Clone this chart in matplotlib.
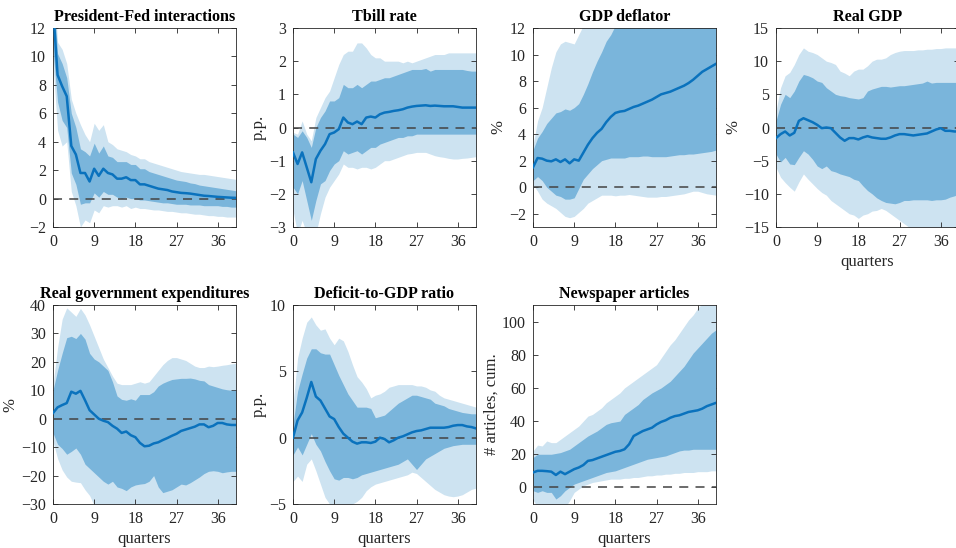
import matplotlib
matplotlib.use("Agg")
import matplotlib.pyplot as plt
import numpy as np

quarters = np.arange(41)

titles = ["President-Fed interactions", "Tbill rate", "GDP deflator", "Real GDP",
          "Real government expenditures", "Deficit-to-GDP ratio", "Newspaper articles"]
ylabels = ["", "p.p.", "%", "%", "%", "p.p.", "# articles, cum."]
ylims = [(-2, 12), (-3, 3), (-3, 12), (-15, 15), (-30, 40), (-5, 10), (-10, 110)]
yticks = [[-2, 0, 2, 4, 6, 8, 10, 12], [-3, -2, -1, 0, 1, 2, 3], [-2, 0, 2, 4, 6, 8, 10, 12],
          [-15, -10, -5, 0, 5, 10, 15], [-30, -20, -10, 0, 10, 20, 30, 40], [-5, 0, 5, 10],
          [0, 20, 40, 60, 80, 100]]
xticks = [0, 9, 18, 27, 36]
show_xlabel = [False, False, False, True, True, True, True]

# President-Fed interactions
pf_med = [13.5, 8.7, 7.9, 7.2, 3.7, 3.1, 1.8, 1.8, 1.2, 2.1, 1.6, 2.1, 1.8, 1.7, 1.4, 1.4, 1.5, 1.3, 1.3, 1.0,
          1.0, 0.9, 0.8, 0.7, 0.65, 0.6, 0.5, 0.45, 0.4, 0.38, 0.35, 0.3, 0.25, 0.2, 0.18, 0.15, 0.12, 0.1, 0.08, 0.06, 0.05]
pf_in_hi = [15.0, 10.2, 9.5, 8.5, 6.0, 5.0, 3.5, 3.3, 3.0, 3.9, 3.2, 3.7, 3.0, 2.9, 2.6, 2.6, 2.6, 2.4, 2.4, 2.1,
            2.1, 1.9, 1.8, 1.7, 1.6, 1.5, 1.4, 1.3, 1.25, 1.2, 1.1, 1.05, 0.95, 0.9, 0.85, 0.8, 0.75, 0.7, 0.65, 0.6, 0.55]
pf_in_lo = [10.5, 6.8, 5.5, 5.0, 1.8, 1.0, -0.4, -0.3, -0.3, 0.4, 0.1, 0.5, 0.3, 0.3, 0.1, 0.0, 0.1, 0.0, 0.0, -0.1,
            -0.1, -0.15, -0.2, -0.25, -0.3, -0.3, -0.35, -0.4, -0.4, -0.4, -0.45, -0.45, -0.45, -0.5, -0.5, -0.5, -0.5, -0.55, -0.55, -0.6, -0.6]
pf_out_hi = [16.0, 11.0, 10.5, 9.5, 7.0, 6.0, 5.2, 4.5, 4.0, 5.3, 4.8, 5.2, 4.0, 3.8, 3.5, 3.4, 3.3, 3.1, 3.0, 2.8,
             2.8, 2.6, 2.5, 2.4, 2.3, 2.2, 2.1, 2.0, 1.9, 1.85, 1.8, 1.75, 1.7, 1.7, 1.65, 1.6, 1.55, 1.5, 1.45, 1.4, 1.35]
pf_out_lo = [9.5, 4.8, 3.7, 4.0, 0.5, -0.5, -2.0, -1.5, -1.7, -0.8, -1.0, -0.5, -0.6, -0.5, -0.5, -0.6, -0.5, -0.7, -0.6, -0.7,
             -0.7, -0.75, -0.8, -0.8, -0.85, -0.9, -0.9, -0.95, -1.0, -1.0, -1.05, -1.1, -1.1, -1.15, -1.2, -1.2, -1.25, -1.25, -1.3, -1.3, -1.3]

# Tbill rate
tb_med = [-0.75, -1.1, -0.75, -1.2, -1.65, -0.95, -0.7, -0.5, -0.2, -0.15, -0.05, 0.3, 0.15, 0.1, 0.18, 0.1, 0.3, 0.33, 0.3, 0.4,
          0.45, 0.47, 0.5, 0.52, 0.55, 0.6, 0.63, 0.65, 0.66, 0.67, 0.65, 0.66, 0.65, 0.64, 0.64, 0.64, 0.62, 0.6, 0.6, 0.6, 0.6]
tb_in_hi = [-0.2, -0.3, -0.1, -0.3, -0.6, 0.0, 0.3, 0.5, 0.8, 0.8, 0.9, 1.3, 1.2, 1.2, 1.3, 1.2, 1.3, 1.4, 1.4, 1.45,
            1.5, 1.5, 1.55, 1.6, 1.65, 1.7, 1.75, 1.75, 1.75, 1.78, 1.7, 1.75, 1.75, 1.75, 1.75, 1.75, 1.75, 1.75, 1.72, 1.7, 1.7]
tb_in_lo = [-1.8, -2.0, -1.6, -2.2, -2.8, -2.2, -1.7, -1.6, -1.3, -1.1, -1.0, -0.7, -0.8, -0.75, -0.7, -0.8, -0.7, -0.6, -0.6, -0.5,
            -0.45, -0.4, -0.35, -0.3, -0.3, -0.25, -0.25, -0.2, -0.2, -0.2, -0.2, -0.2, -0.2, -0.2, -0.2, -0.2, -0.2, -0.2, -0.2, -0.2, -0.2]
tb_out_hi = [-0.15, -0.2, 0.2, -0.2, -0.4, 0.3, 0.6, 0.9, 1.1, 1.5, 1.9, 2.2, 2.3, 2.3, 2.55, 2.55, 2.4, 2.2, 2.1, 2.1,
             2.0, 2.0, 2.0, 2.0, 1.95, 2.0, 1.95, 2.0, 2.05, 2.1, 2.15, 2.2, 2.2, 2.2, 2.25, 2.25, 2.25, 2.25, 2.25, 2.25, 2.25]
tb_out_lo = [-2.5, -3.2, -2.8, -3.2, -3.4, -3.2, -2.6, -2.1, -1.8, -1.6, -1.4, -1.1, -1.2, -1.2, -1.25, -1.2, -1.2, -1.25, -1.2, -1.1,
             -1.0, -1.0, -0.95, -0.9, -0.85, -0.8, -0.78, -0.75, -0.75, -0.75, -0.8, -0.85, -0.88, -0.9, -0.93, -0.95, -0.95, -0.93, -0.92, -0.9, -0.88]

# GDP deflator
gd_med = [1.5, 2.2, 2.15, 2.0, 1.95, 2.1, 1.9, 2.1, 1.8, 2.1, 2.0, 2.6, 3.2, 3.7, 4.1, 4.4, 4.9, 5.3, 5.6, 5.7,
          5.75, 5.9, 6.05, 6.15, 6.3, 6.45, 6.6, 6.8, 7.0, 7.1, 7.2, 7.35, 7.5, 7.65, 7.85, 8.1, 8.4, 8.7, 8.9, 9.1, 9.3]
gd_in_hi = [2.8, 3.7, 4.2, 4.8, 5.2, 5.6, 5.7, 5.9, 5.8, 6.0, 6.3, 7.0, 7.8, 8.7, 9.5, 10.2, 11.0, 11.5, 12.2, 12.8,
            13.2, 13.6, 14.0, 14.3, 14.6, 14.9, 15.2, 15.4, 15.6, 15.8, 16.0, 16.2, 16.4, 16.6, 16.8, 17.0, 17.2, 17.4, 17.6, 17.8, 18.0]
gd_in_lo = [0.5, 0.8, 0.5, 0.0, -0.3, -0.6, -0.7, -0.9, -0.9, -0.8, -0.1, 0.6, 1.0, 1.4, 1.7, 2.0, 2.1, 2.2, 2.2, 2.2,
            2.2, 2.3, 2.3, 2.3, 2.35, 2.35, 2.3, 2.3, 2.3, 2.3, 2.35, 2.4, 2.45, 2.45, 2.5, 2.5, 2.55, 2.6, 2.65, 2.7, 2.8]
gd_out_hi = [3.2, 5.0, 6.0, 7.5, 9.0, 10.2, 10.8, 11.0, 10.9, 10.8, 11.5, 12.2, 13.0, 13.8, 14.5, 15.2, 15.9, 16.5, 17.0, 17.5,
             18.0, 18.4, 18.8, 19.2, 19.6, 20.0, 20.4, 20.8, 21.2, 21.6, 22.0, 22.4, 22.8, 23.2, 23.6, 24.0, 24.4, 24.8, 25.2, 25.6, 26.0]
gd_out_lo = [0.2, -0.3, -0.9, -1.2, -1.4, -1.6, -1.9, -2.2, -2.3, -2.2, -1.9, -1.6, -1.2, -1.0, -0.8, -0.6, -0.6, -0.6, -0.65, -0.6,
             -0.6, -0.55, -0.6, -0.65, -0.7, -0.75, -0.75, -0.75, -0.7, -0.7, -0.65, -0.6, -0.55, -0.5, -0.4, -0.3, -0.3, -0.4, -0.5, -0.55, -0.6]

# Real GDP
rg_med = [-1.6, -1.0, -0.6, -1.2, -0.8, 1.0, 1.4, 1.1, 0.8, 0.4, -0.1, 0.0, -0.1, -0.8, -1.5, -2.0, -1.6, -1.6, -1.8, -1.5,
          -1.3, -1.5, -1.6, -1.7, -1.7, -1.5, -1.2, -1.0, -1.0, -1.1, -1.2, -1.1, -1.0, -0.9, -0.6, -0.3, -0.1, -0.5, -0.5, -0.6, -0.6]
rg_in_hi = [1.0, 3.5, 5.0, 4.5, 5.5, 7.0, 8.0, 7.8, 7.5, 7.0, 6.8, 6.0, 5.5, 5.0, 4.8, 4.7, 4.5, 4.4, 4.3, 4.5,
            5.5, 5.8, 6.0, 6.2, 6.2, 6.1, 6.2, 6.3, 6.3, 6.4, 6.5, 6.6, 6.7, 7.0, 6.7, 6.8, 6.8, 6.8, 6.8, 6.8, 6.8]
rg_in_lo = [-4.0, -5.2, -4.5, -5.5, -5.6, -4.5, -3.5, -4.0, -4.8, -5.8, -6.2, -5.8, -6.5, -6.7, -7.0, -7.2, -7.4, -7.8, -8.0, -8.8,
            -9.5, -10.0, -10.6, -11.0, -11.3, -11.4, -11.5, -11.3, -11.0, -11.0, -10.9, -10.9, -10.9, -10.9, -11.0, -10.9, -10.9, -10.8, -10.5, -10.3, -10.0]
rg_out_hi = [2.5, 6.0, 7.8, 8.3, 9.5, 11.0, 12.0, 11.5, 11.3, 11.0, 10.5, 10.0, 9.8, 9.5, 8.5, 8.2, 7.8, 8.5, 8.8, 8.8,
             9.3, 10.0, 10.3, 10.3, 10.5, 11.0, 11.3, 11.5, 11.6, 11.6, 11.6, 11.7, 11.7, 11.8, 11.8, 11.9, 11.9, 12.0, 12.0, 12.0, 12.0]
rg_out_lo = [-6.0, -7.5, -8.3, -9.0, -9.6, -8.2, -7.0, -7.8, -8.5, -9.2, -9.8, -10.2, -11.0, -11.5, -12.0, -12.5, -13.0, -13.2, -13.7, -13.2,
             -13.0, -12.6, -12.5, -12.2, -12.5, -13.0, -13.5, -14.0, -14.5, -15.0, -15.5, -16.0, -16.5, -17.0, -17.3, -17.6, -17.9, -18.2, -18.5, -18.8, -19.0]

# Real government expenditures
ge_med = [2.0, 4.0, 4.8, 5.5, 9.5, 8.8, 9.8, 6.5, 3.0, 1.5, 0.0, -0.7, -1.2, -2.5, -3.5, -5.0, -4.5, -5.8, -6.5, -8.5,
          -9.7, -9.5, -8.7, -8.3, -7.5, -6.8, -6.0, -5.3, -4.3, -3.8, -3.3, -2.8, -2.0, -2.0, -3.0, -2.5, -1.5, -1.5, -2.0, -2.2, -2.2]
ge_in_hi = [10.0, 17.0, 23.0, 28.5, 29.0, 28.2, 30.0, 28.0, 23.0, 21.0, 20.0, 18.5, 17.0, 13.0, 8.0, 6.8, 6.5, 7.0, 6.5, 8.5,
            8.5, 8.5, 9.5, 11.5, 12.5, 13.2, 13.8, 14.0, 14.2, 14.2, 14.3, 14.0, 13.5, 13.3, 12.0, 11.5, 11.0, 10.5, 10.2, 10.0, 10.0]
ge_in_lo = [-5.0, -9.0, -10.5, -12.5, -11.5, -10.3, -12.5, -16.0, -17.5, -19.0, -20.5, -22.0, -23.0, -22.0, -24.0, -24.5, -25.3, -24.0, -23.3, -23.0,
            -22.8, -22.0, -20.0, -24.0, -26.0, -25.5, -25.0, -24.0, -23.0, -23.3, -22.5, -21.5, -20.5, -19.3, -18.5, -18.3, -18.5, -19.0, -18.7, -18.5, -18.5]
ge_out_hi = [12.0, 25.0, 35.0, 39.0, 37.5, 36.0, 38.8, 36.5, 33.0, 29.0, 25.0, 21.0, 18.0, 15.0, 12.5, 12.0, 12.0, 12.0, 12.5, 13.0,
             12.5, 13.0, 15.0, 17.0, 19.0, 20.5, 21.5, 21.5, 21.0, 20.5, 19.5, 18.5, 18.0, 18.0, 18.5, 18.3, 18.5, 18.8, 19.0, 19.3, 19.5]
ge_out_lo = [-8.0, -14.0, -18.0, -20.5, -22.0, -22.3, -22.5, -25.0, -27.0, -30.5, -33.0, -35.0, -36.0, -37.0, -38.0, -39.0, -40.0, -40.0, -40.0, -40.0,
             -40.0, -40.0, -40.0, -40.0, -40.0, -40.0, -40.0, -40.0, -40.0, -40.0, -40.0, -40.0, -40.0, -40.0, -40.0, -40.0, -40.0, -40.0, -40.0, -40.0, -40.0]

# Deficit-to-GDP ratio
dg_med = [0.0, 1.3, 1.9, 3.0, 4.2, 3.1, 2.8, 2.2, 1.6, 1.4, 0.8, 0.3, 0.0, -0.3, -0.45, -0.35, -0.35, -0.4, -0.3, 0.0,
          -0.1, -0.35, -0.2, 0.0, 0.1, 0.25, 0.4, 0.5, 0.55, 0.65, 0.75, 0.75, 0.75, 0.75, 0.8, 0.9, 0.95, 0.95, 0.85, 0.8, 0.7]
dg_in_hi = [1.0, 3.5, 4.8, 6.0, 6.7, 6.7, 6.4, 6.3, 6.3, 5.5, 4.7, 4.0, 3.3, 2.8, 2.3, 2.3, 2.3, 2.2, 1.5, 1.6,
            1.7, 2.0, 2.3, 2.6, 2.8, 3.0, 3.2, 3.2, 3.1, 3.0, 2.9, 2.6, 2.5, 2.4, 2.2, 2.1, 2.0, 1.9, 1.85, 1.8, 1.8]
dg_in_lo = [-1.3, -0.7, -1.3, -0.5, 0.3, -0.5, -1.0, -1.8, -2.5, -3.1, -3.2, -3.0, -3.0, -3.1, -3.0, -2.8, -2.7, -2.6, -2.5, -2.4,
            -2.3, -2.2, -2.1, -2.0, -1.8, -1.6, -2.0, -2.4, -2.0, -1.6, -1.4, -1.2, -1.0, -0.8, -0.7, -0.6, -0.55, -0.5, -0.5, -0.5, -0.5]
dg_out_hi = [2.5, 6.0, 7.5, 8.7, 9.1, 8.5, 8.1, 8.2, 7.5, 7.0, 7.5, 7.3, 6.5, 5.5, 4.6, 4.2, 3.7, 3.0, 3.2, 3.3,
             3.5, 3.8, 3.9, 4.0, 4.0, 4.0, 4.0, 3.9, 3.9, 3.8, 3.6, 3.5, 3.2, 3.0, 2.9, 2.8, 2.7, 2.6, 2.5, 2.4, 2.3]
dg_out_lo = [-3.3, -2.9, -3.3, -2.0, -1.6, -2.5, -3.5, -4.5, -5.0, -5.3, -5.3, -5.3, -5.2, -5.0, -4.8, -4.5, -4.0, -3.7, -3.5, -3.4,
             -3.3, -3.2, -3.1, -3.0, -2.9, -2.8, -2.6, -2.7, -3.0, -3.3, -3.6, -3.9, -4.1, -4.3, -4.4, -4.45, -4.4, -4.3, -4.1, -3.9, -3.8]

# Newspaper articles
na_med = [9.0, 10.0, 10.0, 9.8, 9.5, 7.5, 9.5, 8.0, 9.5, 11.0, 12.0, 13.5, 16.0, 16.5, 17.5, 18.5, 19.5, 20.5, 21.5, 22.0,
          23.0, 26.0, 31.0, 32.5, 34.0, 35.0, 36.0, 38.0, 39.5, 40.5, 42.0, 43.0, 43.5, 44.5, 45.5, 46.0, 46.5, 47.5, 49.0, 50.0, 51.0]
na_in_hi = [18.0, 20.0, 20.0, 20.0, 20.0, 20.5, 21.0, 22.0, 23.0, 25.0, 27.0, 29.0, 31.0, 32.5, 34.0, 36.0, 38.0, 39.0, 39.5, 40.0,
            44.0, 46.0, 48.0, 50.0, 53.0, 55.0, 57.0, 58.5, 60.0, 62.0, 64.0, 67.0, 70.0, 73.0, 77.0, 81.0, 84.0, 87.0, 90.0, 93.0, 95.0]
na_in_lo = [-2.0, -3.0, -2.0, -3.0, -3.0, -7.0, -5.0, -2.0, 0.0, 2.0, 3.0, 4.0, 5.0, 6.0, 7.0, 8.0, 9.0, 9.5, 10.0, 11.0,
            12.0, 13.0, 14.0, 15.0, 16.0, 17.0, 17.5, 18.0, 18.5, 19.0, 20.0, 21.0, 22.0, 22.5, 22.5, 23.0, 23.0, 23.0, 23.0, 23.0, 23.0]
na_out_hi = [22.0, 25.5, 25.0, 28.0, 27.0, 27.0, 29.0, 31.0, 33.0, 35.0, 37.0, 40.0, 43.0, 44.0, 46.0, 48.0, 51.0, 53.0, 55.0, 57.0,
             60.0, 62.0, 64.0, 66.0, 68.0, 70.0, 72.0, 74.0, 78.0, 82.0, 86.0, 89.0, 93.0, 97.0, 101.0, 104.0, 108.0, 111.0, 114.0, 117.0, 120.0]
na_out_lo = [-7.5, -12.0, -11.0, -11.0, -12.0, -15.0, -13.0, -12.0, -8.0, -3.0, -1.0, 1.0, 2.0, 3.0, 3.5, 4.0, 4.5, 5.0, 5.0, 5.0,
             5.5, 5.5, 6.0, 6.0, 6.5, 7.0, 7.0, 7.5, 7.5, 8.0, 8.0, 8.5, 8.5, 9.0, 9.0, 9.0, 9.5, 9.5, 9.5, 10.0, 10.0]

panels = [
    (pf_med, pf_in_lo, pf_in_hi, pf_out_lo, pf_out_hi),
    (tb_med, tb_in_lo, tb_in_hi, tb_out_lo, tb_out_hi),
    (gd_med, gd_in_lo, gd_in_hi, gd_out_lo, gd_out_hi),
    (rg_med, rg_in_lo, rg_in_hi, rg_out_lo, rg_out_hi),
    (ge_med, ge_in_lo, ge_in_hi, ge_out_lo, ge_out_hi),
    (dg_med, dg_in_lo, dg_in_hi, dg_out_lo, dg_out_hi),
    (na_med, na_in_lo, na_in_hi, na_out_lo, na_out_hi),
]

plt.rcParams['font.family'] = ['Liberation Serif', 'DejaVu Serif']

W, H = 956, 548
fig = plt.figure(figsize=(W / 100, H / 100), dpi=100)

lefts = [53, 293, 533, 776, 53, 293, 533]
tops = [28, 28, 28, 28, 305, 305, 305]
aw, ah = 183, 199

c_line = '#0a72bd'
c_dark = '#7ab5db'
c_light = '#cde3f1'

for i in range(7):
    l, t = lefts[i], tops[i]
    ax = fig.add_axes([l / W, 1 - (t + ah) / H, aw / W, ah / H])
    med, ilo, ihi, olo, ohi = panels[i]
    ax.fill_between(quarters, olo, ohi, color=c_light, lw=0, zorder=1)
    ax.fill_between(quarters, ilo, ihi, color=c_dark, lw=0, zorder=2)
    ax.axhline(0, color='#444444', lw=1.3, ls=(0, (5, 4)), alpha=0.85, zorder=3)
    ax.plot(quarters, med, color=c_line, lw=1.8, zorder=4)
    ax.set_xlim(0, 40)
    ax.set_ylim(*ylims[i])
    ax.set_xticks(xticks)
    ax.set_yticks(yticks[i])
    ax.tick_params(direction='in', top=True, right=True, length=3.5, width=0.6,
                   labelsize=11.5, colors='#262626', pad=5)
    for s in ax.spines.values():
        s.set_linewidth(0.6)
        s.set_color('#262626')
    ax.set_title(titles[i], fontsize=11.6, fontweight='bold', pad=5)
    if ylabels[i]:
        ax.set_ylabel(ylabels[i], fontsize=12, labelpad=2, color='#262626')
    if show_xlabel[i]:
        ax.set_xlabel('quarters', fontsize=12, labelpad=3, color='#262626')

fig.savefig('out.png', dpi=100)
